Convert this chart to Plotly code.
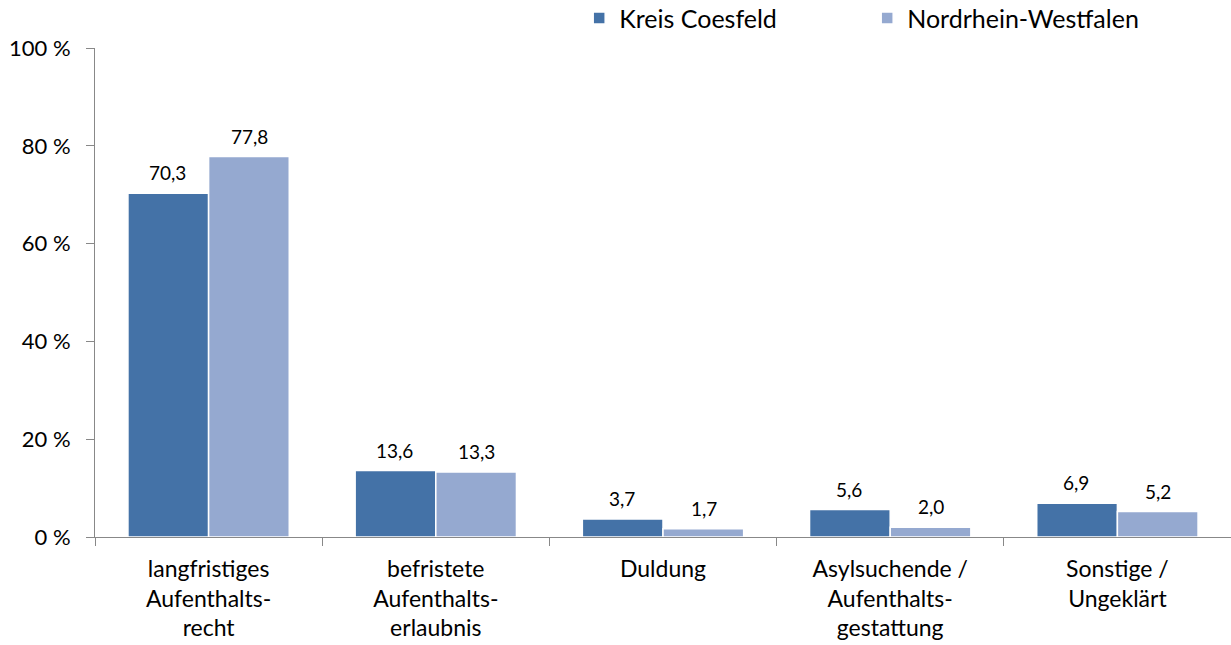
import plotly.graph_objects as go

categories = ["langfristiges<br>Aufenthalts-<br>recht",
              "befristete<br>Aufenthalts-<br>erlaubnis",
              "Duldung",
              "Asylsuchende /<br>Aufenthalts-<br>gestattung",
              "Sonstige /<br>Ungeklärt"]
kreis_coesfeld = [70.3, 13.6, 3.7, 5.6, 6.9]
nrw = [77.8, 13.3, 1.7, 2.0, 5.2]
series_names = ["Kreis Coesfeld", "Nordrhein-Westfalen"]
colors = ["#4472A7", "#95A9D0"]
y_ticks = [0, 20, 40, 60, 80, 100]
y_tick_labels = ["0 %", "20 %", "40 %", "60 %", "80 %", "100 %"]

FONT = "Lato"


def fmt(v):
    return f"{v:.1f}".replace(".", ",")


fig = go.Figure()
for name, vals, col in zip(series_names, [kreis_coesfeld, nrw], colors):
    fig.add_trace(go.Bar(
        x=categories, y=vals, name=name,
        marker=dict(color=col, line=dict(color="white", width=1.5)),
    ))

annotations = []
for vals, shift in [(kreis_coesfeld, -41), (nrw, 41)]:
    for i, v in enumerate(vals):
        annotations.append(dict(
            x=categories[i], y=v, xref="x", yref="y", text=fmt(v),
            showarrow=False, yanchor="bottom", xshift=shift, yshift=7,
            font=dict(family=FONT, size=19, color="black")))

fig.update_layout(
    width=1231, height=645,
    margin=dict(l=95, r=0, t=48, b=108, autoexpand=False),
    paper_bgcolor="white", plot_bgcolor="white",
    barmode="group", bargap=0.29, bargroupgap=0.0,
    font=dict(family=FONT, size=22, color="black"),
    annotations=annotations,
    legend=dict(orientation="h", xref="container", x=0.4705, xanchor="left",
                yref="paper", y=1.108, yanchor="top",
                font=dict(family=FONT, size=25, color="black"),
                entrywidth=243, entrywidthmode="pixels",
                traceorder="normal", itemclick=False),
    xaxis=dict(showline=True, linecolor="#888888", linewidth=1,
               ticks="outside", tickson="boundaries", ticklen=8, tickcolor="#888888",
               tickfont=dict(family=FONT, size=23, color="black"),
               ticklabelstandoff=11, showgrid=False, zeroline=False,
               automargin=False),
    yaxis=dict(range=[0, 100], tickvals=y_ticks, ticktext=y_tick_labels,
               showline=True, linecolor="#888888", linewidth=1,
               ticks="outside", ticklen=8, tickcolor="#888888",
               tickfont=dict(family=FONT, size=22, color="black"),
               ticklabelstandoff=11, automargin=False,
               showgrid=False, zeroline=False),
)

fig.write_html("out.html",
               config={"displayModeBar": False},
               post_script="document.body.style.margin='0';document.body.style.overflow='hidden';")
